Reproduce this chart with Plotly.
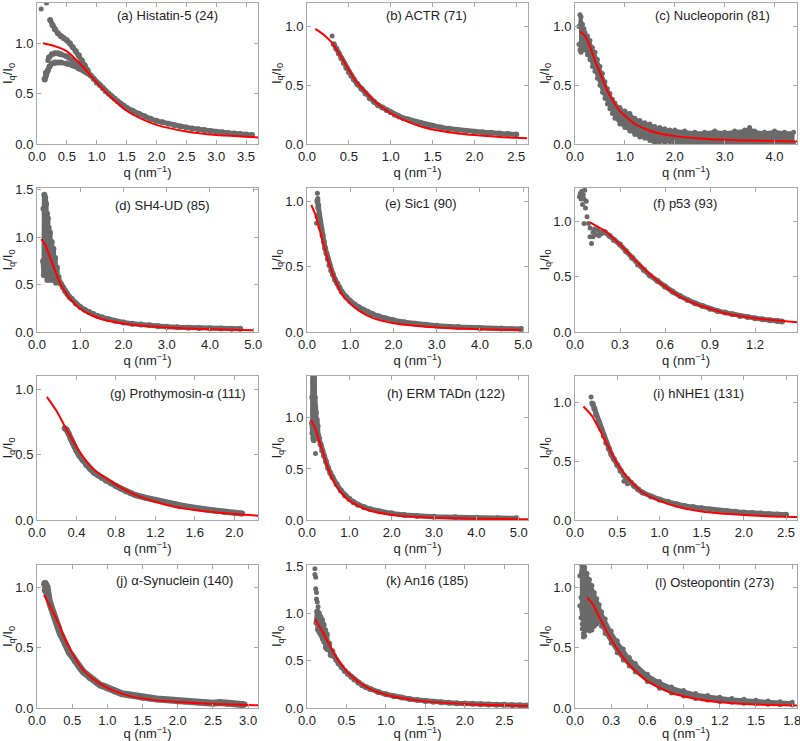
import plotly.graph_objects as go

# ---------------- data ----------------
# (a) Histatin-5
a_fit_q = [0.1, 0.25, 0.5, 0.75, 1.0, 1.25, 1.5, 1.75, 2.0, 2.5, 3.0, 3.5, 3.7]
a_fit_I = [1.0, 0.98, 0.92, 0.78, 0.61, 0.46, 0.33, 0.25, 0.19, 0.125, 0.09, 0.073, 0.065]
a_exp_q = [0.85, 0.9, 0.95, 1.0, 1.05, 1.1, 1.15, 1.2, 1.25, 1.3, 1.35, 1.4, 1.45, 1.5, 1.6, 1.7, 1.8, 1.9,
           2.0, 2.1, 2.2, 2.3, 2.4, 2.5, 2.6, 2.7, 2.8, 2.9, 3.0, 3.1, 3.2, 3.3, 3.4, 3.5, 3.6]
a_exp_I = [0.71, 0.68, 0.645, 0.61, 0.585, 0.555, 0.525, 0.5, 0.475, 0.45, 0.425, 0.40, 0.38, 0.36, 0.33, 0.30,
           0.275, 0.25, 0.23, 0.215, 0.2, 0.187, 0.175, 0.165, 0.155, 0.146, 0.138, 0.13, 0.122, 0.116, 0.11,
           0.105, 0.1, 0.095, 0.09]
a_up_q = [0.22, 0.26, 0.3, 0.35, 0.4, 0.45, 0.5, 0.55, 0.6, 0.65, 0.7, 0.75, 0.8, 0.85]
a_up_I = [1.23, 1.18, 1.14, 1.1, 1.07, 1.05, 1.03, 1.0, 0.96, 0.92, 0.88, 0.83, 0.78, 0.73]
a_mid_q = [0.2, 0.25, 0.3, 0.35, 0.4, 0.5, 0.6, 0.7, 0.8]
a_mid_I = [0.86, 0.89, 0.9, 0.9, 0.89, 0.87, 0.83, 0.79, 0.74]
a_low_q = [0.13, 0.15, 0.18, 0.21, 0.25, 0.3, 0.35, 0.4, 0.5, 0.6, 0.7, 0.8, 0.85]
a_low_I = [0.64, 0.68, 0.73, 0.77, 0.8, 0.81, 0.81, 0.81, 0.8, 0.78, 0.75, 0.72, 0.7]
a_dot_q = [0.07, 0.16, 0.12, 0.14, 0.18]
a_dot_I = [1.34, 1.40, 0.65, 0.71, 0.83]

# (b) ACTR
b_fit_q = [0.1, 0.2, 0.3, 0.4, 0.5, 0.6, 0.7, 0.8, 0.9, 1.0, 1.2, 1.4, 1.6, 1.8, 2.0, 2.2, 2.4, 2.63]
b_fit_I = [0.98, 0.93, 0.86, 0.75, 0.63, 0.52, 0.44, 0.37, 0.31, 0.26, 0.19, 0.14, 0.11, 0.09, 0.076, 0.065, 0.056, 0.048]
b_exp_q = [0.32, 0.35, 0.38, 0.41, 0.44, 0.47, 0.5, 0.53, 0.56, 0.6, 0.65, 0.7, 0.75, 0.8, 0.85, 0.9, 0.95, 1.0,
           1.05, 1.1, 1.15, 1.2, 1.25, 1.3, 1.35, 1.4, 1.45, 1.5, 1.6, 1.7, 1.8, 1.9, 2.0, 2.1, 2.2, 2.3, 2.4, 2.5]
b_exp_I = [0.85, 0.81, 0.77, 0.73, 0.69, 0.65, 0.61, 0.58, 0.55, 0.51, 0.47, 0.43, 0.39, 0.36, 0.33, 0.31, 0.29,
           0.27, 0.25, 0.235, 0.22, 0.21, 0.2, 0.19, 0.18, 0.17, 0.16, 0.155, 0.14, 0.13, 0.12, 0.11, 0.105, 0.1,
           0.095, 0.09, 0.085, 0.08]
b_dot_q = [0.3]
b_dot_I = [0.92]

# (c) Nucleoporin  (noisy band: upper / lower edges of the grey cloud)
c_fit_q = [0.1, 0.2, 0.3, 0.4, 0.5, 0.6, 0.7, 0.8, 0.9, 1.0, 1.2, 1.4, 1.6, 1.8, 2.0, 2.5, 3.0, 3.5, 4.0, 4.45]
c_fit_I = [0.96, 0.92, 0.83, 0.71, 0.61, 0.5, 0.41, 0.34, 0.28, 0.24, 0.17, 0.13, 0.10, 0.08, 0.067, 0.047, 0.036, 0.03, 0.025, 0.022]
c_env_q = [0.08, 0.1, 0.12, 0.15, 0.18, 0.2, 0.25, 0.3, 0.35, 0.4, 0.45, 0.5, 0.55, 0.6, 0.65, 0.7, 0.75, 0.8,
           0.9, 1.0, 1.1, 1.2, 1.3, 1.4, 1.5, 1.6, 1.7, 1.8, 1.9, 2.0, 2.2, 2.4, 2.6, 2.8, 3.0, 3.2, 3.4, 3.5,
           3.6, 3.8, 4.0, 4.2, 4.38]
c_env_hi = [1.0, 1.1, 1.08, 1.02, 0.98, 0.95, 0.92, 0.88, 0.82, 0.78, 0.72, 0.66, 0.6, 0.53, 0.47, 0.43, 0.38,
            0.35, 0.31, 0.28, 0.26, 0.22, 0.2, 0.18, 0.17, 0.15, 0.14, 0.13, 0.12, 0.12, 0.11, 0.1, 0.1, 0.11,
            0.1, 0.11, 0.12, 0.14, 0.11, 0.1, 0.11, 0.1, 0.1]
c_env_lo = [0.85, 0.8, 0.78, 0.8, 0.82, 0.8, 0.76, 0.72, 0.66, 0.62, 0.56, 0.5, 0.44, 0.39, 0.34, 0.3, 0.26,
            0.22, 0.17, 0.14, 0.11, 0.08, 0.06, 0.05, 0.03, 0.0, 0.02, 0.01, 0.02, 0.0, 0.01, 0.0, 0.0, 0.01,
            0.0, 0.0, 0.0, 0.01, 0.0, 0.0, 0.01, 0.0, 0.0]

# (d) SH4-UD
d_fit_q = [0.1, 0.2, 0.3, 0.4, 0.5, 0.6, 0.8, 1.0, 1.2, 1.5, 2.0, 2.5, 3.0, 4.0, 5.0]
d_fit_I = [0.98, 0.91, 0.79, 0.67, 0.55, 0.46, 0.33, 0.245, 0.19, 0.135, 0.09, 0.064, 0.047, 0.028, 0.018]
d_low_q = [0.14, 0.15, 0.16, 0.17, 0.18, 0.19, 0.2, 0.21, 0.22, 0.23, 0.24, 0.25, 0.26, 0.27, 0.28, 0.3,
           0.32, 0.34, 0.36, 0.38, 0.4, 0.42, 0.44, 0.46, 0.48, 0.5]
d_low_I = [0.75, 1.3, 0.6, 1.45, 0.7, 1.42, 0.8, 1.35, 0.65, 1.25, 0.55, 1.2, 0.7, 1.1, 0.6, 1.05, 0.55, 0.95,
           0.58, 0.88, 0.55, 0.78, 0.52, 0.68, 0.55, 0.58]
d_exp_q = [0.5, 0.55, 0.6, 0.65, 0.7, 0.75, 0.8, 0.9, 1.0, 1.1, 1.2, 1.3, 1.4, 1.5, 1.65, 1.8, 2.0, 2.2, 2.4,
           2.6, 2.8, 3.0, 3.25, 3.5, 3.75, 4.0, 4.25, 4.5, 4.7]
d_exp_I = [0.55, 0.51, 0.47, 0.43, 0.40, 0.37, 0.35, 0.30, 0.265, 0.235, 0.21, 0.19, 0.17, 0.155, 0.135, 0.12,
           0.10, 0.088, 0.078, 0.07, 0.062, 0.056, 0.05, 0.045, 0.042, 0.04, 0.037, 0.035, 0.033]

# (e) Sic1
e_fit_q = [0.1, 0.2, 0.3, 0.4, 0.5, 0.6, 0.7, 0.8, 1.0, 1.2, 1.5, 2.0, 2.5, 3.0, 4.0, 4.95]
e_fit_I = [0.97, 0.89, 0.77, 0.65, 0.53, 0.44, 0.36, 0.29, 0.215, 0.163, 0.11, 0.067, 0.047, 0.034, 0.021, 0.016]
e_exp_q = [0.24, 0.26, 0.28, 0.3, 0.33, 0.36, 0.39, 0.42, 0.45, 0.48, 0.52, 0.56, 0.6, 0.65, 0.7, 0.75, 0.8,
           0.9, 1.0, 1.1, 1.2, 1.3, 1.4, 1.5, 1.65, 1.8, 2.0, 2.25, 2.5, 2.75, 3.0, 3.5, 4.0, 4.5, 4.95]
e_exp_I = [1.0, 0.95, 0.9, 0.85, 0.79, 0.74, 0.69, 0.64, 0.6, 0.56, 0.51, 0.47, 0.44, 0.4, 0.37, 0.34, 0.31,
           0.27, 0.235, 0.21, 0.19, 0.17, 0.155, 0.14, 0.12, 0.105, 0.09, 0.075, 0.063, 0.055, 0.048, 0.038,
           0.031, 0.026, 0.023]
e_dot_q = [0.24, 0.22, 0.23, 0.25, 0.27, 0.3]
e_dot_I = [1.06, 0.83, 0.88, 1.02, 0.97, 0.8]

# (f) p53
f_fit_q = [0.1, 0.2, 0.3, 0.4, 0.5, 0.6, 0.7, 0.8, 0.9, 1.0, 1.1, 1.2, 1.3, 1.48]
f_fit_I = [0.99, 0.91, 0.79, 0.65, 0.52, 0.41, 0.32, 0.255, 0.21, 0.17, 0.145, 0.125, 0.11, 0.088]
f_exp_q = [0.2, 0.23, 0.26, 0.3, 0.34, 0.38, 0.42, 0.46, 0.5, 0.55, 0.6, 0.65, 0.7, 0.75, 0.8, 0.85, 0.9, 0.95,
           1.0, 1.05, 1.1, 1.15, 1.2, 1.25, 1.3, 1.35, 1.38]
f_exp_I = [0.9, 0.87, 0.83, 0.79, 0.73, 0.67, 0.61, 0.56, 0.51, 0.46, 0.41, 0.365, 0.325, 0.29, 0.26, 0.235,
           0.21, 0.19, 0.175, 0.16, 0.145, 0.135, 0.125, 0.115, 0.107, 0.1, 0.095]
f_dot_q = [0.03, 0.035, 0.04, 0.045, 0.05, 0.055, 0.06, 0.065, 0.07, 0.075, 0.08, 0.09, 0.1, 0.1, 0.11, 0.12,
           0.12, 0.13, 0.14, 0.15, 0.16, 0.17, 0.18, 0.19, 0.06]
f_dot_I = [1.22, 1.25, 1.2, 1.27, 1.15, 1.24, 1.2, 1.28, 1.12, 1.18, 1.04, 0.98, 0.86, 0.94, 0.80, 0.9, 0.86,
           0.93, 0.88, 0.92, 0.87, 0.9, 0.89, 0.91, 0.98]

# (g) Prothymosin-α
g_fit_q = [0.1, 0.2, 0.3, 0.4, 0.5, 0.6, 0.7, 0.8, 1.0, 1.2, 1.4, 1.6, 1.8, 2.0, 2.24]
g_fit_I = [0.94, 0.83, 0.69, 0.56, 0.45, 0.37, 0.32, 0.27, 0.19, 0.14, 0.10, 0.077, 0.059, 0.046, 0.033]
g_exp_q = [0.28, 0.3, 0.32, 0.34, 0.36, 0.38, 0.4, 0.43, 0.46, 0.5, 0.54, 0.58, 0.62, 0.66, 0.7, 0.75, 0.8,
           0.85, 0.9, 0.95, 1.0, 1.1, 1.2, 1.3, 1.4, 1.5, 1.6, 1.7, 1.8, 1.9, 2.0, 2.08]
g_exp_I = [0.70, 0.69, 0.66, 0.62, 0.59, 0.56, 0.53, 0.49, 0.46, 0.42, 0.39, 0.36, 0.34, 0.32, 0.30, 0.28,
           0.26, 0.24, 0.22, 0.205, 0.19, 0.17, 0.15, 0.135, 0.12, 0.105, 0.09, 0.082, 0.072, 0.062, 0.055, 0.05]

# (h) ERM TADn
h_fit_q = [0.1, 0.2, 0.3, 0.4, 0.5, 0.6, 0.8, 1.0, 1.2, 1.5, 2.0, 2.5, 3.0, 4.0, 5.0, 5.22]
h_fit_I = [0.98, 0.89, 0.76, 0.63, 0.5, 0.4, 0.27, 0.19, 0.14, 0.09, 0.05, 0.033, 0.023, 0.013, 0.008, 0.007]
h_low_q = [0.12, 0.125, 0.13, 0.135, 0.14, 0.145, 0.15, 0.155, 0.16, 0.165, 0.17, 0.175, 0.18, 0.185, 0.19,
           0.195, 0.2, 0.21, 0.22, 0.23, 0.24, 0.25, 0.26, 0.28]
h_low_I = [0.95, 1.2, 0.85, 1.45, 0.9, 1.35, 0.8, 1.45, 0.78, 1.3, 0.9, 1.45, 0.82, 1.2, 0.95, 1.1, 0.88, 1.05,
           0.85, 0.98, 0.86, 0.92, 0.83, 0.8]
h_exp_q = [0.28, 0.32, 0.36, 0.4, 0.45, 0.5, 0.55, 0.6, 0.7, 0.8, 0.9, 1.0, 1.1, 1.2, 1.35, 1.5, 1.7, 2.0, 2.3,
           2.6, 3.0, 3.5, 4.0, 4.5, 4.95]
h_exp_I = [0.8, 0.74, 0.68, 0.63, 0.57, 0.51, 0.46, 0.42, 0.35, 0.29, 0.24, 0.205, 0.175, 0.15, 0.125, 0.105,
           0.085, 0.065, 0.05, 0.04, 0.032, 0.026, 0.021, 0.018, 0.016]
h_dot_q = [0.2]
h_dot_I = [0.65]

# (i) hNHE1
i_fit_q = [0.1, 0.2, 0.3, 0.4, 0.5, 0.6, 0.7, 0.8, 1.0, 1.2, 1.5, 2.0, 2.5, 2.63]
i_fit_I = [0.97, 0.89, 0.76, 0.62, 0.48, 0.38, 0.3, 0.235, 0.165, 0.115, 0.072, 0.042, 0.028, 0.026]
i_exp_q = [0.21, 0.23, 0.25, 0.28, 0.31, 0.34, 0.37, 0.4, 0.43, 0.46, 0.5, 0.54, 0.58, 0.62, 0.66, 0.7, 0.75,
           0.8, 0.9, 1.0, 1.1, 1.2, 1.3, 1.4, 1.5, 1.6, 1.7, 1.8, 1.9, 2.0, 2.1, 2.2, 2.3, 2.4, 2.5]
i_exp_I = [0.99, 0.95, 0.9, 0.84, 0.78, 0.72, 0.66, 0.61, 0.56, 0.52, 0.47, 0.42, 0.38, 0.35, 0.32, 0.29, 0.26,
           0.235, 0.2, 0.175, 0.155, 0.135, 0.12, 0.11, 0.1, 0.09, 0.08, 0.075, 0.07, 0.065, 0.06, 0.055, 0.05,
           0.048, 0.045]
i_dot_q = [0.19, 0.2, 0.58, 0.62]
i_dot_I = [1.05, 1.0, 0.33, 0.31]

# (j) α-Synuclein
j_fit_q = [0.1, 0.2, 0.3, 0.4, 0.5, 0.6, 0.7, 0.8, 1.0, 1.2, 1.5, 2.0, 2.5, 3.0, 3.14]
j_fit_I = [0.94, 0.83, 0.71, 0.57, 0.46, 0.36, 0.29, 0.24, 0.167, 0.12, 0.078, 0.05, 0.033, 0.025, 0.022]
j_exp_q = [0.1, 0.11, 0.12, 0.13, 0.14, 0.15, 0.17, 0.19, 0.21, 0.23, 0.25, 0.27, 0.29, 0.31, 0.33, 0.35, 0.37,
           0.4, 0.43, 0.46, 0.5, 0.54, 0.58, 0.62, 0.66, 0.7, 0.75, 0.8, 0.85, 0.9, 0.95, 1.0, 1.1, 1.2, 1.3, 1.4,
           1.5, 1.6, 1.7, 1.8, 1.9, 2.0, 2.1, 2.2, 2.3, 2.4, 2.5, 2.6, 2.7, 2.8, 2.9, 2.95]
j_exp_I = [1.03, 0.98, 1.04, 0.96, 1.02, 0.93, 0.9, 0.86, 0.82, 0.79, 0.75, 0.73, 0.69, 0.67, 0.62, 0.6, 0.57,
           0.53, 0.5, 0.46, 0.43, 0.39, 0.36, 0.33, 0.3, 0.28, 0.25, 0.23, 0.21, 0.19, 0.18, 0.165, 0.14, 0.12,
           0.11, 0.1, 0.085, 0.08, 0.075, 0.07, 0.065, 0.055, 0.055, 0.05, 0.045, 0.045, 0.04, 0.045, 0.035,
           0.035, 0.03, 0.03]

# (k) An16
k_fit_q = [0.1, 0.2, 0.3, 0.4, 0.5, 0.6, 0.7, 0.8, 1.0, 1.2, 1.5, 2.0, 2.5, 2.8]
k_fit_I = [0.94, 0.80, 0.64, 0.5, 0.39, 0.31, 0.25, 0.2, 0.14, 0.105, 0.07, 0.042, 0.028, 0.022]
k_dot_q = [0.1, 0.1, 0.11, 0.11, 0.12, 0.12, 0.13, 0.14]
k_dot_I = [1.47, 1.41, 1.38, 1.26, 1.22, 1.15, 1.12, 1.07]
k_low_q = [0.12, 0.13, 0.14, 0.15, 0.16, 0.17, 0.18, 0.19, 0.2, 0.21, 0.22, 0.23, 0.24, 0.25, 0.26, 0.28, 0.3,
           0.32, 0.34]
k_low_I = [0.9, 1.02, 0.83, 1.0, 0.8, 0.96, 0.77, 0.93, 0.73, 0.88, 0.7, 0.82, 0.64, 0.78, 0.62, 0.68, 0.56,
           0.6, 0.55]
k_exp_q = [0.34, 0.37, 0.4, 0.44, 0.48, 0.52, 0.56, 0.6, 0.65, 0.7, 0.75, 0.8, 0.9, 1.0, 1.1, 1.2, 1.3, 1.4,
           1.5, 1.6, 1.7, 1.8, 1.9, 2.0, 2.1, 2.2, 2.3, 2.4, 2.5, 2.6, 2.7, 2.78]
k_exp_I = [0.55, 0.51, 0.47, 0.43, 0.39, 0.36, 0.33, 0.3, 0.27, 0.24, 0.22, 0.2, 0.17, 0.145, 0.125, 0.11,
           0.095, 0.085, 0.075, 0.067, 0.06, 0.055, 0.05, 0.047, 0.044, 0.04, 0.037, 0.035, 0.033, 0.03, 0.028,
           0.027]

# (l) Osteopontin  (noisy band: upper / lower edges of the grey cloud)
l_fit_q = [0.1, 0.15, 0.2, 0.3, 0.4, 0.5, 0.6, 0.7, 0.8, 0.9, 1.0, 1.2, 1.4, 1.6, 1.84]
l_fit_I = [0.92, 0.86, 0.76, 0.57, 0.42, 0.31, 0.225, 0.17, 0.125, 0.097, 0.075, 0.047, 0.033, 0.025, 0.02]
l_env_q = [0.04, 0.05, 0.06, 0.07, 0.08, 0.1, 0.12, 0.14, 0.16, 0.18, 0.2, 0.22, 0.25, 0.3, 0.35, 0.4, 0.45,
           0.5, 0.6, 0.7, 0.8, 0.9, 1.0, 1.1, 1.2, 1.3, 1.4, 1.5, 1.6, 1.7, 1.8]
l_env_hi = [1.1, 1.2, 1.2, 1.19, 1.17, 1.12, 1.07, 1.02, 0.96, 0.91, 0.86, 0.8, 0.74, 0.64, 0.56, 0.49, 0.42,
            0.37, 0.28, 0.22, 0.175, 0.145, 0.12, 0.105, 0.09, 0.08, 0.072, 0.065, 0.058, 0.053, 0.048]
l_env_lo = [0.85, 0.75, 0.7, 0.62, 0.6, 0.66, 0.64, 0.65, 0.68, 0.7, 0.72, 0.68, 0.62, 0.54, 0.46, 0.4, 0.35,
            0.3, 0.22, 0.165, 0.125, 0.1, 0.08, 0.066, 0.055, 0.047, 0.04, 0.035, 0.032, 0.03, 0.028]
l_dot_q = [0.07, 0.05, 0.06]
l_dot_I = [0.59, 0.92, 0.66]

# titles and tick labels
titles = ["(a) Histatin-5 (24)", "(b) ACTR (71)", "(c) Nucleoporin (81)",
          "(d) SH4-UD (85)", "(e) Sic1 (90)", "(f) p53 (93)",
          "(g) Prothymosin-α (111)", "(h) ERM TADn (122)", "(i) hNHE1 (131)",
          "(j) α-Synuclein (140)", "(k) An16 (185)", "(l) Osteopontin (273)"]
xticks = [
    [0, 0.5, 1.0, 1.5, 2.0, 2.5, 3.0, 3.5],
    [0, 0.5, 1.0, 1.5, 2.0, 2.5],
    [0, 1.0, 2.0, 3.0, 4.0],
    [0, 1.0, 2.0, 3.0, 4.0, 5.0],
    [0, 1.0, 2.0, 3.0, 4.0, 5.0],
    [0, 0.3, 0.6, 0.9, 1.2],
    [0, 0.4, 0.8, 1.2, 1.6, 2.0],
    [0, 1.0, 2.0, 3.0, 4.0, 5.0],
    [0, 0.5, 1.0, 1.5, 2.0, 2.5],
    [0, 0.5, 1.0, 1.5, 2.0, 2.5, 3.0],
    [0, 0.5, 1.0, 1.5, 2.0, 2.5],
    [0, 0.3, 0.6, 0.9, 1.2, 1.5, 1.8],
]
yticks = [
    [0, 0.5, 1.0], [0, 0.5, 1.0], [0, 0.5, 1.0],
    [0, 0.5, 1.0, 1.5], [0, 0.5, 1.0], [0, 0.5, 1.0],
    [0, 0.5, 1.0], [0, 0.5, 1.0], [0, 0.5, 1.0],
    [0, 0.5, 1.0], [0, 0.5, 1.0, 1.5], [0, 0.5, 1.0],
]

# ---------------- layout geometry ----------------
W, H = 800, 741
xranges = [[0, 3.7], [0, 2.64], [0, 4.45], [0, 5.11], [0, 5.11], [0, 1.48],
           [0, 2.24], [0, 5.22], [0, 2.63], [0, 3.14], [0, 2.8], [0, 1.84]]
yranges = [[0, 1.4], [0, 1.2], [0, 1.2], [0, 1.52], [0, 1.1], [0, 1.3],
           [0, 1.1], [0, 1.41], [0, 1.23], [0, 1.19], [0, 1.51], [0, 1.19]]
col_px = [(37, 258), (307, 528), (575, 797)]
row_px = [(3, 144), (188, 332), (376, 520), (565, 708)]
title_px = [(167, 16), (426, 16), (712, 16), (162, 206), (421, 204), (685, 204),
            (178, 393), (446, 393), (698, 393), (174, 580), (427, 580), (714, 582)]

GRAY = "#6a6a6a"
RED = "#ff0000"
FONT = "Liberation Sans, Arial, sans-serif"

band_sets = [
    [(a_exp_q, a_exp_I), (a_up_q, a_up_I), (a_mid_q, a_mid_I), (a_low_q, a_low_I)],
    [(b_exp_q, b_exp_I)],
    [],
    [(d_low_q, d_low_I), (d_exp_q, d_exp_I)],
    [(e_exp_q, e_exp_I)],
    [(f_exp_q, f_exp_I)],
    [(g_exp_q, g_exp_I)],
    [(h_low_q, h_low_I), (h_exp_q, h_exp_I)],
    [(i_exp_q, i_exp_I)],
    [(j_exp_q, j_exp_I)],
    [(k_low_q, k_low_I), (k_exp_q, k_exp_I)],
    [],
]
env_sets = [None, None, (c_env_q, c_env_hi, c_env_lo), None, None, None,
            None, None, None, None, None, (l_env_q, l_env_hi, l_env_lo)]
dot_sets = [(a_dot_q, a_dot_I), (b_dot_q, b_dot_I), None, None, (e_dot_q, e_dot_I), (f_dot_q, f_dot_I),
            None, (h_dot_q, h_dot_I), (i_dot_q, i_dot_I), None, (k_dot_q, k_dot_I), (l_dot_q, l_dot_I)]
fit_sets = [(a_fit_q, a_fit_I), (b_fit_q, b_fit_I), (c_fit_q, c_fit_I), (d_fit_q, d_fit_I),
            (e_fit_q, e_fit_I), (f_fit_q, f_fit_I), (g_fit_q, g_fit_I), (h_fit_q, h_fit_I),
            (i_fit_q, i_fit_I), (j_fit_q, j_fit_I), (k_fit_q, k_fit_I), (l_fit_q, l_fit_I)]
band_width = [5, 5, 5, 5, 5, 5, 6, 5, 5, 7, 5, 5]

fig = go.Figure()
annotations = []
for p in range(12):
    r, c = divmod(p, 3)
    ax = "" if p == 0 else str(p + 1)
    xa, ya = "x" + ax, "y" + ax
    if env_sets[p] is not None:
        qq, hi, lo = env_sets[p]
        fig.add_trace(go.Scatter(x=list(qq) + list(qq)[::-1], y=list(hi) + list(lo)[::-1],
                                 xaxis=xa, yaxis=ya, mode="lines+markers", fill="toself",
                                 fillcolor=GRAY, line=dict(color=GRAY, width=2),
                                 marker=dict(color=GRAY, size=5), showlegend=False, hoverinfo="skip"))
    for (qq, II) in band_sets[p]:
        fig.add_trace(go.Scatter(x=qq, y=II, xaxis=xa, yaxis=ya, mode="lines+markers",
                                 line=dict(color=GRAY, width=band_width[p]),
                                 marker=dict(color=GRAY, size=6), showlegend=False, hoverinfo="skip"))
    if dot_sets[p] is not None:
        qq, II = dot_sets[p]
        fig.add_trace(go.Scatter(x=qq, y=II, xaxis=xa, yaxis=ya, mode="markers",
                                 marker=dict(color=GRAY, size=5), showlegend=False, hoverinfo="skip"))
    qq, II = fit_sets[p]
    fig.add_trace(go.Scatter(x=qq, y=II, xaxis=xa, yaxis=ya, mode="lines",
                             line=dict(color=RED, width=2, shape="spline", smoothing=0.6),
                             showlegend=False, hoverinfo="skip"))

    x0, x1 = col_px[c]
    y0, y1 = row_px[r]
    common = dict(showline=True, linecolor="#a8a8a8", linewidth=1, mirror="ticks",
                  ticks="inside", ticklen=4, tickcolor="#a8a8a8", showgrid=False, zeroline=False,
                  automargin=False, ticklabeloverflow="allow",
                  tickfont=dict(family=FONT, size=13, color="#222"), tickformat=".1f")
    fig.layout["xaxis" + ax] = dict(domain=[x0 / W, x1 / W], anchor=ya, range=xranges[p],
                                    tickvals=xticks[p],
                                    title=dict(text="q (nm<sup>−1</sup>)", standoff=4,
                                               font=dict(family=FONT, size=13, color="#222")),
                                    **common)
    fig.layout["yaxis" + ax] = dict(domain=[1 - y1 / H, 1 - y0 / H], anchor=xa, range=yranges[p],
                                    tickvals=yticks[p],
                                    title=dict(text="I<sub>q</sub>/I<sub>0</sub>", standoff=0,
                                               font=dict(family=FONT, size=13, color="#222")),
                                    **common)
    tx, ty = title_px[p]
    annotations.append(dict(text=titles[p], x=tx / W, y=1 - ty / H, xref="paper", yref="paper",
                            showarrow=False, xanchor="center", yanchor="middle",
                            font=dict(family=FONT, size=13, color="#222")))

fig.update_layout(width=W, height=H, margin=dict(l=0, r=0, t=0, b=0),
                  paper_bgcolor="white", plot_bgcolor="white", annotations=annotations,
                  showlegend=False)
fig.write_html("out.html", config={"displayModeBar": False},
               post_script="document.body.style.margin='0';document.body.style.overflow='hidden';")
